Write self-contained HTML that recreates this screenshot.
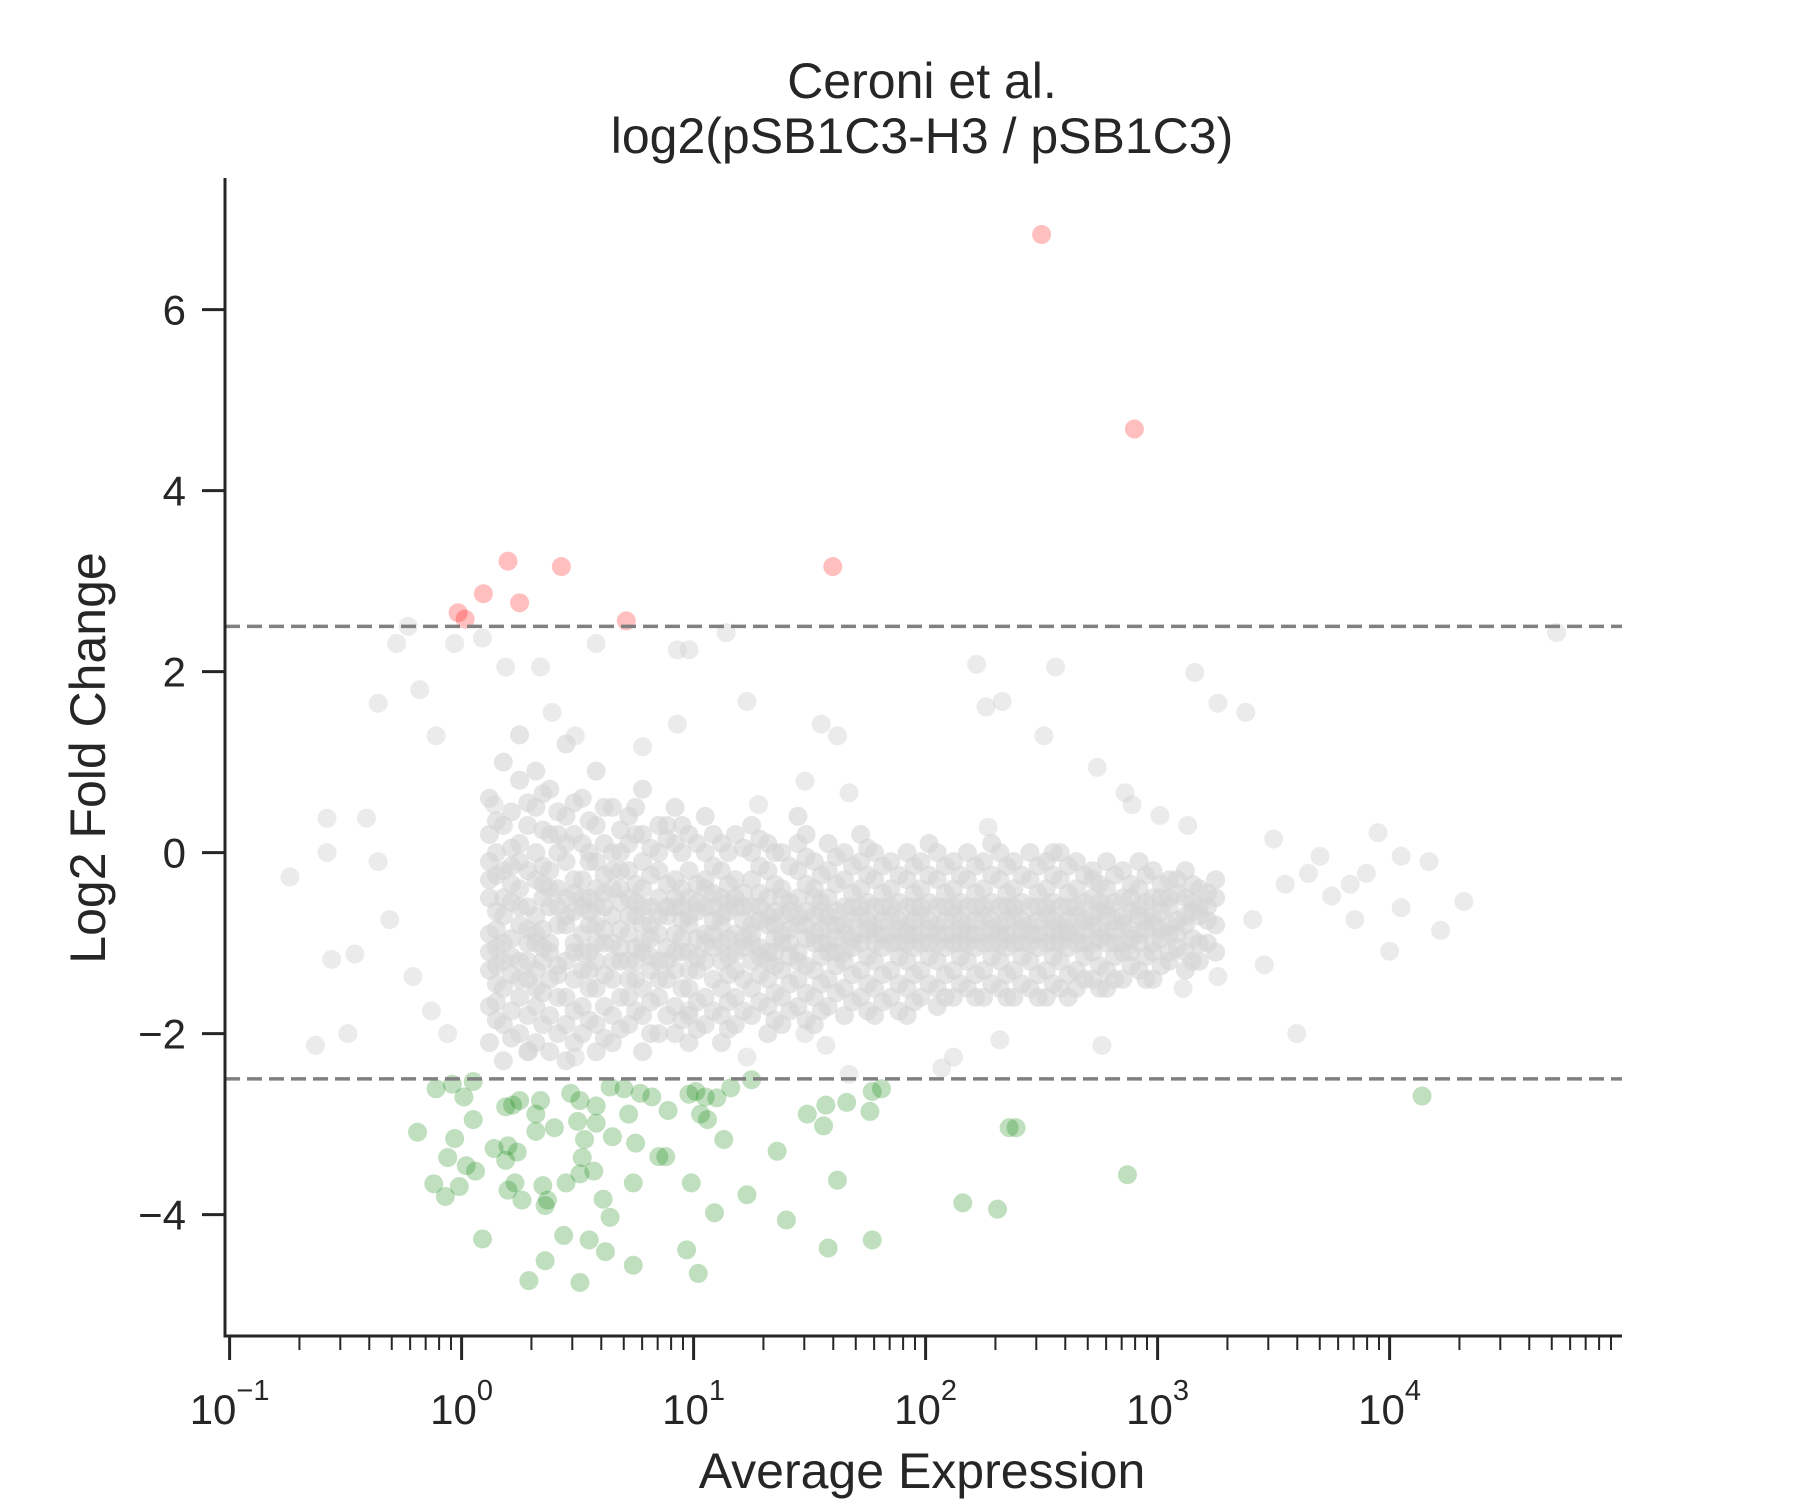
<!DOCTYPE html>
<html><head><meta charset="utf-8"><style>
html,body{margin:0;padding:0;background:#fff;}
svg{display:block;font-family:"Liberation Sans",Arial,sans-serif;}
</style></head><body>
<svg id="chart" width="1800" height="1500" viewBox="0 0 1800 1500" xmlns="http://www.w3.org/2000/svg">
<rect width="1800" height="1500" fill="#fff"/>
<text x="922" y="98" font-size="50" fill="#262626" text-anchor="middle">Ceroni et al.</text>
<text x="922" y="153" font-size="50" fill="#262626" text-anchor="middle">log2(pSB1C3-H3 / pSB1C3)</text>
<text x="0" y="0" transform="translate(105,758) rotate(-90)" font-size="50" fill="#262626" text-anchor="middle">Log2 Fold Change</text>
<text x="922" y="1488" font-size="50" fill="#262626" text-anchor="middle">Average Expression</text>
<g id="marks"></g>
<g id="axes"></g>
</svg>
<script>
// ---- data (x in log10 of average expression, y = log2 fold change) ----
const redLogX = [2.5, 2.9, 1.6, 0.43, 0.2, 0.094, 0.25, -0.015, 0.015, 0.71];
const redY = [6.83, 4.68, 3.16, 3.16, 3.22, 2.86, 2.76, 2.65, 2.58, 2.56];
const greenLogX = [-0.11,-0.04,0.05,0.01,0.19,0.22,0.25,0.34,0.32,0.47,0.51,0.58,0.64,0.70,0.77,0.82,0.89,0.98,1.01,1.05,1.10,1.16,1.25,-0.19,-0.03,0.05,0.20,0.24,0.32,0.40,0.50,0.53,0.58,0.65,0.72,0.85,0.88,1.03,1.06,1.13,1.36,1.49,1.57,1.56,1.66,1.76,1.77,1.81,2.36,2.39,4.14,-0.12,-0.01,0.02,-0.07,0.20,0.23,0.26,0.35,0.37,0.45,0.52,0.51,0.57,0.61,0.64,0.74,0.99,1.09,1.23,1.62,2.16,2.31,2.87,0.09,0.36,0.44,0.55,0.62,0.74,0.97,1.02,1.40,1.58,1.77,0.29,0.36,0.51,0.19,0.06,0.14,0.75,-0.06];
const greenY = [-2.61,-2.56,-2.53,-2.70,-2.81,-2.79,-2.74,-2.74,-2.89,-2.66,-2.74,-2.80,-2.59,-2.61,-2.66,-2.70,-2.85,-2.67,-2.64,-2.70,-2.71,-2.60,-2.51,-3.09,-3.16,-2.95,-3.24,-3.31,-3.08,-3.04,-2.97,-3.17,-2.99,-3.14,-2.89,-3.36,-3.36,-2.89,-2.95,-3.17,-3.30,-2.89,-2.79,-3.02,-2.76,-2.86,-2.64,-2.61,-3.04,-3.04,-2.69,-3.66,-3.69,-3.46,-3.80,-3.73,-3.65,-3.84,-3.68,-3.84,-3.65,-3.37,-3.55,-3.52,-3.83,-4.03,-3.65,-3.65,-3.98,-3.78,-3.62,-3.87,-3.94,-3.56,-4.27,-3.90,-4.23,-4.28,-4.41,-4.56,-4.39,-4.65,-4.06,-4.37,-4.28,-4.73,-4.51,-4.75,-3.40,-3.52,-3.27,-3.21,-3.37];
const grayCoreLogX = [0.12,0.18,0.25,0.32,0.38,0.45,0.52,0.58,0.65,0.72,0.78,0.85,0.92,0.98,1.05,1.12,1.18,1.25,1.32,1.38,1.45,1.52,1.58,1.65,1.72,1.78,1.85,1.92,1.98,2.05,2.12,2.18,2.25,2.32,2.38,2.45,2.52,2.58,2.65,2.72,2.78,2.85,2.92,2.98,3.05,3.12,3.18,3.25];
const grayCoreY = [
[0.6,-0.1,-0.5,-0.9,-1.3,-1.7,-2.1,0.2,-1.1,-0.3],
[1.0,0.3,-0.2,-0.7,-1.0,-1.5,-1.9,-2.3,-0.5,-1.2],
[0.8,0.1,-0.4,-0.8,-1.2,-1.6,-2.0,-0.1,-0.6,-1.4,1.3],
[0.5,0.0,-0.3,-0.7,-1.0,-1.3,-1.7,-2.1,-0.9,-1.5,0.9],
[0.7,0.2,-0.2,-0.6,-1.1,-1.4,-1.8,-2.2,-0.4,-1.0],
[0.4,-0.1,-0.5,-0.8,-1.2,-1.6,-1.9,-2.3,0.1,-0.7,1.2],
[0.6,0.1,-0.3,-0.6,-0.9,-1.3,-1.7,-2.0,-1.1,-0.5],
[0.3,-0.1,-0.4,-0.8,-1.2,-1.5,-1.9,-2.2,-0.6,-1.0,0.9],
[0.5,0.0,-0.4,-0.7,-1.0,-1.4,-1.8,-2.1,-0.2,-1.2],
[0.4,-0.2,-0.5,-0.9,-1.2,-1.6,-1.9,-0.7,-1.4,0.1],
[0.2,-0.1,-0.4,-0.8,-1.1,-1.5,-1.8,-2.2,-0.6,-1.0,0.7],
[0.3,-0.2,-0.5,-0.9,-1.2,-1.6,-2.0,-0.7,-1.4,0.0],
[0.1,-0.3,-0.6,-0.9,-1.3,-1.7,-2.0,-0.5,-1.1,0.5],
[0.2,-0.2,-0.5,-0.8,-1.1,-1.5,-1.8,-2.1,-0.7,-1.3],
[0.0,-0.3,-0.6,-0.9,-1.2,-1.6,-1.9,-0.4,-1.0,0.4],
[0.1,-0.2,-0.5,-0.8,-1.2,-1.5,-1.8,-2.1,-0.7,-1.0],
[0.2,-0.3,-0.6,-0.9,-1.3,-1.6,-1.9,-0.5,-1.1],
[0.0,-0.3,-0.6,-0.9,-1.2,-1.5,-1.8,-0.8,-1.0,0.3],
[0.1,-0.2,-0.5,-0.8,-1.1,-1.4,-1.7,-2.0,-0.7,-1.2],
[0.0,-0.4,-0.7,-1.0,-1.3,-1.6,-1.9,-0.5,-0.9],
[0.1,-0.2,-0.5,-0.8,-1.1,-1.4,-1.7,-0.7,-1.2,0.4],
[-0.1,-0.4,-0.7,-1.0,-1.3,-1.6,-1.9,-0.5,-0.9],
[0.1,-0.2,-0.5,-0.8,-1.1,-1.4,-1.7,-0.7,-1.0],
[0.0,-0.3,-0.6,-0.9,-1.2,-1.5,-1.8,-0.8,-1.1],
[-0.1,-0.4,-0.7,-1.0,-1.3,-1.6,-0.6,-0.9,0.2],
[0.0,-0.3,-0.6,-0.9,-1.2,-1.5,-1.8,-0.8,-1.0],
[-0.1,-0.4,-0.7,-1.0,-1.3,-1.6,-0.6,-0.9],
[0.0,-0.3,-0.6,-0.9,-1.2,-1.5,-1.8,-0.8,-1.0],
[-0.1,-0.4,-0.7,-1.0,-1.3,-1.6,-0.6,-0.9],
[0.0,-0.3,-0.6,-0.9,-1.2,-1.5,-0.8,-1.0,-1.7],
[-0.1,-0.4,-0.7,-1.0,-1.3,-1.6,-0.6,-0.9],
[0.0,-0.3,-0.6,-0.9,-1.2,-1.5,-0.8,-1.0],
[-0.1,-0.4,-0.7,-1.0,-1.3,-1.6,-0.6,-0.9],
[0.0,-0.3,-0.6,-0.9,-1.2,-1.5,-0.8,-1.0],
[-0.1,-0.4,-0.7,-1.0,-1.3,-1.6,-0.6,-0.9],
[0.0,-0.3,-0.6,-0.9,-1.2,-1.5,-0.8,-1.0],
[-0.1,-0.4,-0.7,-1.0,-1.3,-1.6,-0.6,-0.9],
[0.0,-0.3,-0.6,-0.9,-1.2,-1.5,-0.8,-1.0],
[-0.1,-0.4,-0.7,-1.0,-1.3,-1.5,-0.6,-0.9],
[-0.2,-0.5,-0.8,-1.1,-1.4,-0.7,-1.0,-0.3],
[-0.1,-0.4,-0.7,-1.0,-1.3,-1.5,-0.6,-0.9],
[-0.2,-0.5,-0.8,-1.1,-1.4,-0.7,-1.0],
[-0.1,-0.4,-0.7,-1.0,-1.3,-0.6,-0.9],
[-0.2,-0.5,-0.8,-1.1,-1.4,-0.7,-1.0],
[-0.3,-0.6,-0.9,-1.2,-0.5,-0.8,-1.1],
[-0.2,-0.5,-0.8,-1.1,-1.3,-0.7],
[-0.4,-0.7,-1.0,-1.2,-0.6],
[-0.5,-0.8,-1.1,-0.3]
];
const grayFillLogX = [0.15,0.215,0.285,0.35,0.415,0.485,0.55,0.615,0.685,0.75,0.815,0.885,0.95,1.015,1.085,1.15,1.215,1.285,1.35,1.415,1.485,1.55,1.615,1.685,1.75,1.815,1.885,1.95,2.015,2.085,2.15,2.215,2.285,2.35,2.415,2.485,2.55,2.615,2.685,2.75,2.815,2.885,2.95,3.015,3.085,3.15,3.215];
const grayFillY = [
[0.35,-0.25,-0.65,-1.05,-1.45,-1.85,-0.85,0.0,-1.25,-1.65],
[0.45,-0.15,-0.55,-0.95,-1.35,-1.75,-2.05,-0.35,-1.15,0.05],
[0.3,-0.2,-0.6,-1.0,-1.4,-1.8,-2.2,-0.85,-1.2,0.55],
[0.25,-0.15,-0.5,-0.85,-1.2,-1.55,-1.9,-0.35,-1.05,0.65],
[0.45,0.0,-0.4,-0.8,-1.25,-1.6,-2.0,-0.6,-1.35,0.2],
[0.2,-0.3,-0.65,-1.0,-1.4,-1.75,-2.1,-0.45,-1.1,0.55],
[0.35,-0.1,-0.5,-0.8,-1.1,-1.5,-1.85,-0.65,-1.3,0.0],
[0.1,-0.25,-0.6,-1.0,-1.35,-1.7,-2.05,-0.45,-0.85,0.5],
[0.25,-0.2,-0.55,-0.85,-1.2,-1.6,-1.95,-0.4,-1.05,0.0],
[0.2,-0.35,-0.7,-1.05,-1.4,-1.75,-0.55,-1.2,0.5],
[0.05,-0.25,-0.6,-0.95,-1.3,-1.65,-2.0,-0.8,-1.15],
[0.15,-0.35,-0.7,-1.05,-1.4,-1.8,-0.6,-1.2,0.3],
[0.0,-0.4,-0.75,-1.1,-1.5,-1.85,-0.6,-0.95,0.3],
[0.1,-0.35,-0.65,-0.95,-1.3,-1.65,-1.95,-0.55,-1.15],
[-0.15,-0.45,-0.75,-1.05,-1.4,-1.75,-0.6,-0.9,0.2],
[0.0,-0.35,-0.65,-0.95,-1.35,-1.65,-1.95,-0.55,-1.15],
[0.05,-0.45,-0.75,-1.05,-1.4,-1.75,-0.6,-0.95],
[-0.15,-0.45,-0.75,-1.05,-1.35,-1.65,-0.6,-1.15,0.15],
[0.0,-0.35,-0.65,-0.95,-1.25,-1.55,-1.85,-0.8,-1.1],
[-0.15,-0.55,-0.85,-1.15,-1.45,-1.75,-0.65,-1.0],
[-0.05,-0.35,-0.65,-0.95,-1.25,-1.55,-1.85,-0.8,0.2],
[-0.25,-0.55,-0.85,-1.15,-1.45,-1.75,-0.65,-1.0],
[-0.05,-0.35,-0.65,-0.95,-1.25,-1.55,-0.8,-1.1],
[-0.15,-0.45,-0.75,-1.05,-1.35,-1.65,-0.6,-0.95],
[-0.25,-0.55,-0.85,-1.15,-1.45,-1.75,-0.75,0.05],
[-0.15,-0.45,-0.75,-1.05,-1.35,-1.65,-0.6,-0.9],
[-0.25,-0.55,-0.85,-1.15,-1.45,-1.75,-0.75,-1.0],
[-0.15,-0.45,-0.75,-1.05,-1.35,-1.65,-0.6,-0.9],
[-0.25,-0.55,-0.85,-1.15,-1.45,-0.75,-1.0,0.1],
[-0.15,-0.45,-0.75,-1.05,-1.35,-1.6,-0.6,-0.9],
[-0.25,-0.55,-0.85,-1.15,-1.45,-0.75,-1.0],
[-0.15,-0.45,-0.75,-1.05,-1.35,-1.6,-0.6,-0.9],
[-0.25,-0.55,-0.85,-1.15,-1.45,-0.75,-1.0,0.1],
[-0.15,-0.45,-0.75,-1.05,-1.35,-1.6,-0.6,-0.9],
[-0.25,-0.55,-0.85,-1.15,-1.45,-0.75,-1.0],
[-0.15,-0.45,-0.75,-1.05,-1.35,-1.6,-0.6,-0.9],
[-0.25,-0.55,-0.85,-1.15,-1.45,-0.75,-1.0,0.0],
[-0.15,-0.45,-0.75,-1.05,-1.35,-1.6,-0.6,-0.9],
[-0.25,-0.55,-0.85,-1.15,-1.4,-0.75,-1.0],
[-0.35,-0.65,-0.95,-1.25,-1.5,-0.55,-0.85],
[-0.25,-0.55,-0.85,-1.15,-1.4,-0.75,-1.0],
[-0.35,-0.65,-0.95,-1.25,-0.5,-0.85,-1.1],
[-0.25,-0.55,-0.85,-1.15,-1.4,-0.75],
[-0.35,-0.65,-0.95,-1.25,-0.5,-0.85],
[-0.45,-0.75,-1.05,-0.3,-0.9],
[-0.35,-0.65,-0.95,-1.2,-0.55],
[-0.45,-0.75,-1.0,-0.6]
];
const graySparseLogX = [-0.74,-0.63,-0.58,-0.58,-0.56,-0.49,-0.46,-0.41,-0.36,-0.28,-0.23,-0.18,-0.11,-0.03,0.09,0.19,0.34,0.58,0.93,0.98,1.14,1.23,1.55,1.62,2.22,2.26,2.33,2.51,2.56,3.16,3.26,3.38,4.72,3.95,4.17,4.32,4.22,4.0,3.6,3.5,3.7,3.83,3.85,3.46,2.74,2.86,2.89,3.01,3.13,2.27,1.67,1.48,1.28,0.93,0.78,0.49,0.39,0.14,-0.36,-0.31,-0.21,-0.13,-0.06,0.98,1.48,1.57,2.12,2.32,2.76,3.11,3.26,3.41,3.55,3.75,4.05,3.90,3.65,4.05,2.61,2.07,1.67,1.23,0.49,0.29];
const graySparseY = [-0.27,-2.13,0.38,0.0,-1.18,-2.0,-1.12,0.38,1.65,2.31,2.50,1.80,1.29,2.31,2.37,2.05,2.05,2.31,2.24,2.24,2.43,1.67,1.42,1.29,2.08,1.61,1.67,1.29,2.05,1.99,1.65,1.55,2.43,0.22,-0.10,-0.54,-0.86,-1.09,-2.0,0.15,-0.04,-0.35,-0.74,-1.24,0.94,0.66,0.53,0.41,0.30,0.28,0.66,0.79,0.53,1.42,1.17,1.29,1.55,0.53,-0.10,-0.74,-1.37,-1.75,-2.0,-1.75,-2.0,-2.13,-2.26,-2.07,-2.13,-1.50,-1.37,-0.74,-0.35,-0.48,-0.61,-0.23,-0.23,-0.04,-0.86,-2.38,-2.45,-2.26,-2.26,-2.19];
const yTickValues = [-4, -2, 0, 2, 4, 6];
const yTickLabels = ["\u22124", "\u22122", "0", "2", "4", "6"];
const xDecades = [-1, 0, 1, 2, 3, 4];
const xTickExponents = ["\u22121", "0", "1", "2", "3", "4"];
const thresholds = [2.5, -2.5];

// ---- scales ----
const X0 = 225, X1 = 1622, Y0 = 178, Y1 = 1336;
function xs(l) { return 229.6 + (l + 1) * 232; }
function ys(v) { return 852.6 - v * 90.5; }

const NS = "http://www.w3.org/2000/svg";
const marks = document.getElementById("marks");
const axes = document.getElementById("axes");
function mk(tag, attrs, parent) {
  const e = document.createElementNS(NS, tag);
  for (const k in attrs) e.setAttribute(k, attrs[k]);
  parent.appendChild(e);
  return e;
}
const R = 9.5;

// gray non-significant points
const gGray = mk("g", {}, marks);


function drawBins(xsArr, ysArr, op) {
  xsArr.forEach((lx, i) => {
    ysArr[i].forEach(v => {
      const c = mk("circle", {cx: xs(lx), cy: ys(v), r: R, fill: "#d3d3d3", "fill-opacity": op}, gGray);
      
      
    });
  });
}
drawBins(grayCoreLogX, grayCoreY, 0.6);
drawBins(grayFillLogX, grayFillY, 0.6);
graySparseLogX.forEach((lx, i) => {
  const c = mk("circle", {cx: xs(lx), cy: ys(graySparseY[i]), r: R, fill: "#d3d3d3", "fill-opacity": 0.45}, gGray);
  
  
});

// green down-regulated
const gGreen = mk("g", {}, marks);


greenLogX.forEach((lx, i) => {
  const c = mk("circle", {cx: xs(lx), cy: ys(greenY[i]), r: R, fill: "green", "fill-opacity": 0.25}, gGreen);
  
  
});

// red up-regulated
const gRed = mk("g", {}, marks);


redLogX.forEach((lx, i) => {
  const c = mk("circle", {cx: xs(lx), cy: ys(redY[i]), r: R, fill: "red", "fill-opacity": 0.25}, gRed);
  
  
});

// threshold lines
thresholds.forEach(t => {
  const l = mk("line", {x1: X0, x2: X1, y1: ys(t), y2: ys(t), stroke: "#808080", "stroke-width": 3.5, "stroke-dasharray": "15 7"}, marks);
  
  
});

// spines
const ySpine = mk("line", {x1: X0, x2: X0, y1: Y0, y2: Y1 + 1.5, stroke: "#262626", "stroke-width": 3}, axes);


const xSpine = mk("line", {x1: X0 - 1.5, x2: X1, y1: Y1, y2: Y1, stroke: "#262626", "stroke-width": 3}, axes);



// y ticks
yTickValues.forEach((v, i) => {
  const y = ys(v);
  const t = mk("line", {x1: X0 - 23, x2: X0, y1: y, y2: y, stroke: "#262626", "stroke-width": 3}, axes);
  
  
  const lb = mk("text", {x: 186, y: y + 15, "font-size": 42, fill: "#262626", "text-anchor": "end"}, axes);
  lb.textContent = yTickLabels[i];
  
  
});

// x ticks (log)
xDecades.forEach((d, i) => {
  const x = xs(d);
  const t = mk("line", {x1: x, x2: x, y1: Y1, y2: Y1 + 24, stroke: "#262626", "stroke-width": 3}, axes);
  
  
  for (let k = 2; k <= 9; k++) {
    const mx = xs(d + Math.log10(k));
    if (mx > X1) continue;
    const m = mk("line", {x1: mx, x2: mx, y1: Y1, y2: Y1 + 14, stroke: "#262626", "stroke-width": 2}, axes);
    
    
  }
  const lb = mk("text", {x: x, y: 1424, "font-size": 42, fill: "#262626", "text-anchor": "middle"}, axes);
  
  
  const base = document.createElementNS(NS, "tspan");
  base.textContent = "10";
  lb.appendChild(base);
  const sup = document.createElementNS(NS, "tspan");
  sup.setAttribute("font-size", "29");
  sup.setAttribute("dy", "-24");
  sup.textContent = xTickExponents[i];
  lb.appendChild(sup);
});
</script>
</body></html>
